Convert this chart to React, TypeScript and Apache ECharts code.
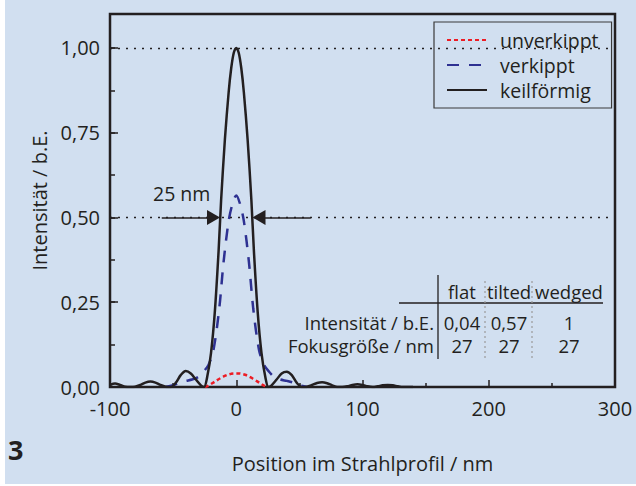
import React, { useEffect, useRef } from "react";
import * as echarts from "echarts";

// ---- data ----
const xTicks = [-100, 0, 100, 200, 300];
const yTicks = [0, 0.25, 0.5, 0.75, 1.0];

const seriesNames = ["unverkippt", "verkippt", "keilförmig"];

// flat (unverkippt)
const redX = [-25, -22, -19, -16, -13, -10, -7, -4, -2, 0, 2, 4, 7, 10, 13, 16, 19, 22, 25];
const redY = [0, 0.004, 0.011, 0.018, 0.025, 0.031, 0.036, 0.039, 0.04, 0.04, 0.04, 0.039, 0.036, 0.031, 0.025, 0.018, 0.011, 0.004, 0];

// tilted (verkippt)
const blueX = [-56, -50, -45, -40, -35, -30, -26, -22, -18, -13.5, -10, -6, -3, 0, 3, 6, 10, 13.5, 18, 22, 26, 30, 35, 40, 45, 50, 56];
const blueY = [0, 0.005, 0.013, 0.018, 0.022, 0.03, 0.045, 0.065, 0.11, 0.23, 0.37, 0.49, 0.54, 0.565, 0.54, 0.49, 0.37, 0.23, 0.11, 0.065, 0.045, 0.03, 0.022, 0.018, 0.013, 0.005, 0];

// wedged (keilförmig)
const blackX = [
  -100, -96, -92, -88, -84, -80, -76, -72, -68, -64, -60, -56, -52, -48, -44, -40, -36, -32, -28, -25.5,
  -23, -20, -17, -14, -12, -9, -6, -4, -2, 0, 2, 4, 6, 9, 12, 14, 17, 20, 23,
  25.5, 28, 32, 36, 40, 44, 48, 52, 56, 60, 64, 68, 72, 76, 80, 84, 88, 92, 96, 100, 104, 108, 112, 116, 120, 124, 128, 132, 140,
];
const blackY = [
  0.006, 0.01, 0.006, 0.001, 0, 0.001, 0.006, 0.013, 0.016, 0.013, 0.006, 0.001, 0, 0.012, 0.035, 0.047, 0.04, 0.022, 0.005, 0,
  0.03, 0.1, 0.22, 0.4, 0.55, 0.73, 0.87, 0.94, 0.985, 1.0, 0.985, 0.94, 0.87, 0.73, 0.55, 0.4, 0.22, 0.1, 0.03,
  0, 0.005, 0.022, 0.04, 0.045, 0.035, 0.012, 0, 0.001, 0.006, 0.012, 0.014, 0.011, 0.005, 0, 0, 0.002, 0.006, 0.008, 0.006, 0.002, 0, 0.002, 0.005, 0.006, 0.005, 0.002, 0, 0,
];

// FWHM annotation
const fwhmLevel = 0.5;
const fwhmLabel = "25 nm";
const arrowLeft = [-59, -18];
const arrowRight = [59, 18];
const refLines = [1.0, 0.5];

// table
const tableCols = ["flat", "tilted", "wedged"];
const tableRowLabels = ["Intensität / b.E.", "Fokusgröße / nm"];
const tableIntensity = ["0,04", "0,57", "1"];
const tableFocus = ["27", "27", "27"];

const FONT = "Open Sans";
const TXT = "#231f20";
const BG = "#d1dff0";

function zip(xs: number[], ys: number[]) {
  return xs.map((x, i) => [x, ys[i]]);
}

export default function App() {
  const ref = useRef<HTMLDivElement>(null);
  useEffect(() => {
    if (!ref.current) return;
    const chart = echarts.init(ref.current, undefined, { renderer: "svg" });
    const colX = [462, 509, 569];
    const tf = `18.5px "${FONT}"`;
    const tableGraphics: any[] = [];
    tableCols.forEach((c, i) =>
      tableGraphics.push({
        type: "text",
        x: colX[i],
        y: 291,
        style: { text: c, font: tf, fill: TXT, align: "center", verticalAlign: "middle" },
      })
    );
    tableRowLabels.forEach((r, i) =>
      tableGraphics.push({
        type: "text",
        x: 434,
        y: 322 + i * 23,
        style: { text: r, font: tf, fill: TXT, align: "right", verticalAlign: "middle" },
      })
    );
    [tableIntensity, tableFocus].forEach((row, r) =>
      row.forEach((v, i) =>
        tableGraphics.push({
          type: "text",
          x: colX[i],
          y: 322 + r * 23,
          style: { text: v, font: tf, fill: TXT, align: "center", verticalAlign: "middle" },
        })
      )
    );
    tableGraphics.push(
      { type: "line", shape: { x1: 438, y1: 275, x2: 438, y2: 359 }, style: { stroke: TXT, lineWidth: 1.3 } },
      { type: "line", shape: { x1: 399, y1: 303, x2: 603, y2: 303 }, style: { stroke: TXT, lineWidth: 1.3 } },
      { type: "line", shape: { x1: 485, y1: 281, x2: 485, y2: 358 }, style: { stroke: "#9a9a9a", lineWidth: 1.2, lineDash: [2, 3] } },
      { type: "line", shape: { x1: 532, y1: 281, x2: 532, y2: 358 }, style: { stroke: "#9a9a9a", lineWidth: 1.2, lineDash: [2, 3] } }
    );

    const arrowStyle = { color: TXT, type: "solid", width: 1.5 };
    const option: any = {
      animation: false,
      backgroundColor: BG,
      textStyle: { fontFamily: FONT },
      grid: {
        left: 110,
        right: 21,
        top: 14,
        bottom: 99,
        show: true,
        borderColor: TXT,
        borderWidth: 2.5,
        backgroundColor: "transparent",
      },
      legend: {
        data: seriesNames,
        orient: "vertical",
        left: 434,
        top: 22,
        itemWidth: 40,
        itemHeight: 14,
        itemGap: 5,
        padding: [8, 13, 8, 12],
        backgroundColor: BG,
        borderColor: "#3a3a3a",
        borderWidth: 1.2,
        borderRadius: 0,
        itemStyle: { opacity: 0, borderWidth: 0 },
        textStyle: { fontSize: 19.5, color: TXT, fontFamily: FONT, padding: [0, 0, 0, 8] },
      },
      xAxis: {
        type: "value",
        min: xTicks[0],
        max: xTicks[xTicks.length - 1],
        interval: 100,
        axisLine: { show: false, onZero: false },
        axisTick: { show: true, inside: true, length: 7, lineStyle: { color: TXT, width: 1.5 } },
        minorTick: { show: true, splitNumber: 2, length: 4, lineStyle: { color: TXT, width: 1.5 } },
        splitLine: { show: false },
        axisLabel: { fontSize: 20, color: TXT, margin: 11, fontFamily: FONT, formatter: (v: number) => String(v) },
        name: "Position im Strahlprofil / nm",
        nameLocation: "middle",
        nameGap: 66,
        nameTextStyle: { fontSize: 20, color: TXT, fontFamily: FONT },
      },
      yAxis: [
        {
          type: "value",
          min: 0,
          max: 1.1,
          interval: 0.25,
          position: "left",
          axisLine: { show: false, onZero: false },
          axisTick: { show: true, inside: true, length: 8, lineStyle: { color: TXT, width: 1.5 } },
          splitLine: { show: false },
          axisLabel: {
            fontSize: 20,
            color: TXT,
            margin: 10,
            fontFamily: FONT,
            formatter: (v: number) =>
              yTicks.some((t) => Math.abs(t - v) < 1e-6) ? v.toFixed(2).replace(".", ",") : "",
          },
          name: "Intensität / b.E.",
          nameLocation: "middle",
          nameGap: 60,
          nameTextStyle: { fontSize: 20, color: TXT, fontFamily: FONT },
        },
        {
          type: "value",
          min: 0,
          max: 1.1,
          interval: 0.125,
          position: "left",
          offset: 0,
          axisLine: { show: false, onZero: false },
          axisTick: { show: true, inside: true, length: 5, lineStyle: { color: TXT, width: 1.5 } },
          axisLabel: { show: false },
          splitLine: { show: false },
        },
      ],
      series: [
        {
          name: seriesNames[0],
          type: "line",
          data: zip(redX, redY),
          symbol: "none",
          showSymbol: false,
          smooth: 0.3,
          lineStyle: { color: "#ed1c24", width: 2.5, type: [4, 3] },
          itemStyle: { color: "#ed1c24" },
        },
        {
          name: seriesNames[1],
          type: "line",
          data: zip(blueX, blueY),
          symbol: "none",
          showSymbol: false,
          smooth: 0.3,
          lineStyle: { color: "#2e3192", width: 2.5, type: [12, 10] },
          itemStyle: { color: "#2e3192" },
        },
        {
          name: seriesNames[2],
          type: "line",
          data: zip(blackX, blackY),
          symbol: "none",
          showSymbol: false,
          smooth: 0.3,
          lineStyle: { color: TXT, width: 2.5 },
          itemStyle: { color: TXT },
          markLine: {
            silent: true,
            symbol: "none",
            label: { show: false },
            lineStyle: { color: TXT, type: [2, 6], width: 1.3 },
            data: [
              ...refLines.map((v) => ({ yAxis: v })),
              [
                { coord: [arrowLeft[0], fwhmLevel], symbol: "none", lineStyle: arrowStyle },
                { coord: [arrowLeft[1], fwhmLevel], symbol: "triangle", symbolSize: [15, 13], lineStyle: arrowStyle },
              ],
              [
                { coord: [arrowRight[0], fwhmLevel], symbol: "none", lineStyle: arrowStyle },
                { coord: [arrowRight[1], fwhmLevel], symbol: "triangle", symbolSize: [15, 13], lineStyle: arrowStyle },
              ],
            ],
          },
        },
      ],
      graphic: [
        { type: "rect", shape: { x: 0, y: 0, width: 5, height: 486 }, style: { fill: "#ffffff" } },
        { type: "rect", shape: { x: 0, y: 484, width: 636, height: 2 }, style: { fill: "#ffffff" } },
        {
          type: "text",
          x: 153,
          y: 193,
          style: { text: fwhmLabel, font: `19.5px "${FONT}"`, fill: TXT, verticalAlign: "middle" },
        },
        {
          type: "text",
          x: 8,
          y: 449,
          style: { text: "3", font: `bold 27px "${FONT}"`, fill: TXT, verticalAlign: "middle" },
        },
        ...tableGraphics,
      ],
    };
    chart.setOption(option);
    return () => chart.dispose();
  }, []);
  return (
    <div
      ref={ref}
      style={{ position: "absolute", left: 0, top: 0, width: 636, height: 486 }}
    />
  );
}
